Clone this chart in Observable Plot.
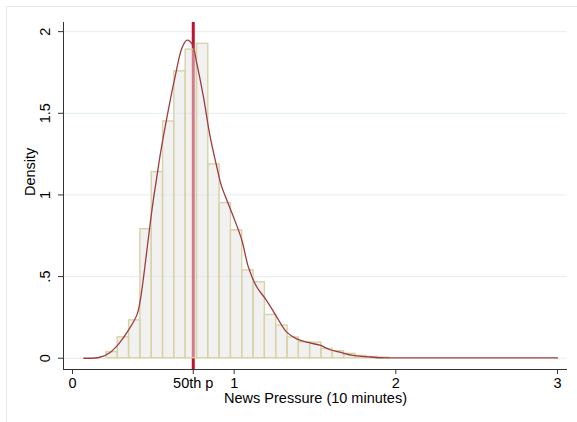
<!DOCTYPE html>
<html><head><meta charset="utf-8">
<script src="https://cdn.jsdelivr.net/npm/d3@7"></script>
<script src="https://cdn.jsdelivr.net/npm/@observablehq/plot@0.6"></script>
<style>
body{margin:0;background:#fff;}
#wrap{position:relative;width:577px;height:422px;overflow:hidden;}
#frame{position:absolute;left:6px;top:6px;width:620px;height:460px;border-left:1px solid #e4eaec;border-top:1px solid #e4eaec;pointer-events:none;}
</style></head><body><div id="wrap"><div id="frame"></div></div>
<script>
// Histogram bins (left edge) and densities
const binLeft = [0.21,0.28,0.35,0.42,0.49,0.56,0.63,0.70,0.77,0.84,0.91,0.98,1.05,1.12,1.19,1.26,1.33,1.40,1.47,1.54,1.61,1.68,1.75,1.82,1.89];
const binDensity = [0.037,0.128,0.232,0.79,1.14,1.45,1.757,1.89,1.925,1.187,0.95,0.783,0.538,0.465,0.265,0.20,0.127,0.098,0.096,0.057,0.043,0.027,0.014,0.008,0.004];
const binWidth = 0.07;

// Kernel density estimate
const kdeX = [0.07,0.17,0.235,0.286,0.358,0.40,0.42,0.44,0.46,0.48,0.50,0.52,0.545,0.585,0.636,0.677,0.708,0.739,0.77,0.81,0.852,0.893,0.92,0.955,0.996,1.048,1.088,1.14,1.2,1.264,1.325,1.387,1.449,1.531,1.593,1.654,1.736,1.819,1.9,2.1,2.4,2.7,3.0];
const kdeY = [0,0.006,0.037,0.088,0.19,0.27,0.36,0.50,0.66,0.82,0.97,1.1,1.26,1.48,1.73,1.9,1.948,1.925,1.8,1.6,1.354,1.17,1.06,0.967,0.865,0.722,0.558,0.436,0.355,0.252,0.16,0.119,0.098,0.08,0.052,0.037,0.017,0.01,0.003,0.002,0.002,0.002,0.002];

const median = 0.747;
const xTicks = [0, median, 1, 2, 3];
const xTickLabels = ["0", "50th p", "1", "2", "3"];
const yTicks = [0, 0.5, 1, 1.5, 2];
const yTickLabels = ["0", ".5", "1", "1.5", "2"];
const xTitle = "News Pressure (10 minutes)";
const yTitle = "Density";

const xDomain = [-0.0557, 3.062];
const yDomain = [-0.069, 2.056];

const bins = binLeft.map((x, i) => ({x1: x, x2: x + binWidth, y: binDensity[i]}));
const kde = kdeX.map((x, i) => ({x, y: kdeY[i]}));
const xLab = new Map(xTicks.map((t, i) => [t, xTickLabels[i]]));
const yLab = new Map(yTicks.map((t, i) => [t, yTickLabels[i]]));

const font = "'Liberation Sans', Helvetica, Arial, sans-serif";

const chart = Plot.plot({
  width: 577,
  height: 422,
  marginLeft: 63,
  marginRight: 10,
  marginTop: 22,
  marginBottom: 53,
  style: {fontFamily: font, fontSize: "14.5px", color: "#000", background: "transparent", overflow: "visible"},
  x: {domain: xDomain},
  y: {domain: yDomain},
  marks: [
    Plot.ruleY(yTicks, {stroke: "#e3eef0", strokeWidth: 1}),
    Plot.ruleX([median], {stroke: "#c0142c", strokeWidth: 3}),
    Plot.rectY(bins, {x1: "x1", x2: "x2", y1: 0, y2: "y", fill: "#e3e3e3", fillOpacity: 0.5, stroke: "#d8d2a4", strokeWidth: 1.4}),
    Plot.line(kde, {x: "x", y: "y", stroke: "#9e3b3f", strokeWidth: 1.3, curve: "catmull-rom"}),
    Plot.ruleX([xDomain[0]], {stroke: "#333", strokeWidth: 1}),
    Plot.ruleY([yDomain[0]], {stroke: "#333", strokeWidth: 1}),
    Plot.axisX({ticks: xTicks, tickFormat: d => xLab.get(d), tickSize: 5, tickPadding: 3, label: null, stroke: "#333", fontSize: 14.5}),
    Plot.axisY({ticks: yTicks, tickFormat: d => yLab.get(d), tickSize: 5, tickPadding: 9, tickRotate: -90, label: null, stroke: "#333", fontSize: 14.5}),
    Plot.text([yTitle], {frameAnchor: "left", dx: -33, rotate: -90, fontSize: 14.5, fill: "#000"}),
    Plot.text([xTitle], {frameAnchor: "bottom", dy: 33, fontSize: 14.5, fill: "#000"})
  ]
});
document.getElementById("wrap").appendChild(chart);
chart.style.position = "absolute";
chart.style.left = "0";
chart.style.top = "0";
</script>
</body></html>
